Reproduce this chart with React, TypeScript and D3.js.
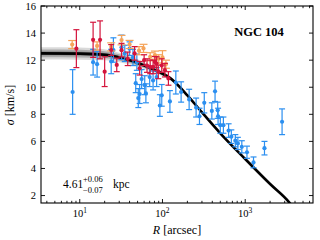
import * as d3 from 'd3';

// model curve (R in arcsec, sigma in km/s) and its band half-width
const modelR = [3.4, 10, 20, 30, 45, 60, 93, 124, 200, 285, 500, 1000, 2000, 3400, 6600];
const modelSigma = [12.5, 12.48, 12.4, 12.2, 11.9, 11.6, 11.1, 10.67, 9.4, 8.3, 6.6, 4.7, 2.85, 1.5, -1.2];
const modelBand = [0.45, 0.45, 0.4, 0.35, 0.3, 0.25, 0.2, 0.15, 0.1, 0.08, 0.06, 0.05, 0.05, 0.05, 0.05];

// blue points
const blueR = [8.2, 14.5, 16.2, 24, 25.5, 32, 35, 40, 44, 47.5, 49, 51, 53, 56, 61, 63, 70, 77, 85, 93, 98, 123, 145, 168, 210, 255, 280, 320, 395, 432, 465, 470, 500, 545, 630, 680, 760, 815, 910, 1050, 1260, 1710, 2790];
const blueSigma = [9.65, 11.85, 11.7, 11.9, 12.75, 12.95, 12.5, 12.85, 12.2, 10.3, 11.85, 9.2, 9.5, 10.6, 10.15, 9.55, 10.75, 10.5, 10.75, 8.65, 9.4, 8.95, 10.35, 9.65, 9.1, 8.5, 7.85, 8.85, 8.25, 9.7, 8.3, 7.85, 7.2, 7.2, 6.8, 6.35, 6.05, 5.85, 5.6, 5.2, 4.45, 5.5, 7.45];
const blueErr = [1.65, 0.95, 0.95, 0.9, 0.9, 0.9, 0.6, 0.5, 0.6, 0.7, 0.6, 0.7, 0.7, 0.7, 0.7, 0.7, 0.7, 0.7, 0.7, 0.8, 0.8, 0.8, 0.85, 0.75, 0.75, 0.7, 0.6, 0.75, 0.6, 0.75, 0.6, 0.6, 0.6, 0.6, 0.5, 0.5, 0.45, 0.45, 0.45, 0.45, 0.4, 0.5, 0.95];

// red points
const redR = [9.1, 14.5, 17.6, 20, 24, 28, 32, 38, 46, 53, 60, 65, 71, 77, 81, 85, 89, 98, 107, 118];
const redSigma = [12.85, 13.5, 13.5, 11.15, 12.75, 11.65, 12.74, 12.1, 12.5, 11.4, 12.0, 11.6, 11.5, 11.5, 11.87, 11.75, 11.13, 11.6, 11.26, 10.65];
const redErr = [1.4, 1.3, 1.4, 1.1, 0.4, 0.5, 0.5, 0.5, 0.5, 0.5, 0.4, 0.5, 0.5, 0.5, 0.4, 0.5, 0.5, 0.5, 0.5, 0.5];

// orange points
const orangeR = [8.1, 16.2, 24, 32, 40, 52, 59, 71, 81, 90, 100, 110];
const orangeSigma = [13.15, 13.05, 12.98, 13.48, 13.16, 12.7, 12.87, 12.25, 12.37, 12.1, 12.2, 11.7];
const orangeErr = [0.3, 0.3, 0.3, 0.35, 0.3, 0.3, 0.3, 0.3, 0.3, 0.3, 0.5, 0.3];

const yTicks = [2, 4, 6, 8, 10, 12, 14, 16];
const xMajor = [10, 100, 1000];
const xMajorExp = ['1', '2', '3'];

const W = 320;
const H = 240;
const L = 41, R = 313, T = 6, B = 203;
const font = '"Liberation Serif", "DejaVu Serif", serif';

const xs = d3.scaleLog().domain([3.4, 6600]).range([L, R]);
const ys = d3.scaleLinear().domain([1.45, 16]).range([B, T]);

function Points({ rs, sig, err, color, cap }: { rs: number[]; sig: number[]; err: number[]; color: string; cap: number }) {
  return (
    <g>
      {rs.map((r, i) => {
        const x = xs(r);
        const y0 = ys(sig[i] - err[i]);
        const y1 = ys(sig[i] + err[i]);
        return (
          <g key={i} stroke={color} strokeWidth={1.2}>
            <line x1={x} x2={x} y1={y0} y2={y1} />
            <line x1={x - cap} x2={x + cap} y1={y0} y2={y0} />
            <line x1={x - cap} x2={x + cap} y1={y1} y2={y1} />
            <circle cx={x} cy={ys(sig[i])} r={2.1} fill={color} stroke="none" />
          </g>
        );
      })}
    </g>
  );
}

export default function App() {
  const idx = modelR.map((_, i) => i);
  const line = d3.line<number>()
    .x(i => xs(modelR[i]))
    .y(i => ys(modelSigma[i]))
    .curve(d3.curveMonotoneX);
  const band = (k: number) => d3.area<number>()
    .x(i => xs(modelR[i]))
    .y0(i => ys(modelSigma[i] - modelBand[i] * k))
    .y1(i => ys(modelSigma[i] + modelBand[i] * k))
    .curve(d3.curveMonotoneX)(idx) as string;

  const minor: number[] = [];
  for (let d = 1; d <= 1000; d *= 10) {
    for (let k = 2; k <= 9; k++) {
      const v = k * d;
      if (v > 3.4 && v < 6600) minor.push(v);
    }
  }

  return (
    <svg width={W} height={H} style={{ position: 'absolute', left: 0, top: 0, background: '#fff' }} fontFamily={font}>
      <defs>
        <clipPath id="plot">
          <rect x={L} y={T} width={R - L} height={B - T} />
        </clipPath>
      </defs>

      <g clipPath="url(#plot)">
        <path d={band(1)} fill="#000" opacity={0.15} />
        <path d={band(0.65)} fill="#000" opacity={0.22} />
        <path d={band(0.3)} fill="#000" opacity={0.3} />
        <path d={line(idx) as string} fill="none" stroke="#000" strokeWidth={2.6} />
        <Points rs={blueR} sig={blueSigma} err={blueErr} color="#2b8ff0" cap={3} />
        <Points rs={orangeR} sig={orangeSigma} err={orangeErr} color="#f5a45a" cap={4} />
        <Points rs={redR} sig={redSigma} err={redErr} color="#d4143c" cap={3} />
      </g>

      {/* ticks */}
      <g stroke="#000" strokeWidth={0.9}>
        {yTicks.map(t => (
          <g key={t}>
            <line x1={L} x2={L + 4} y1={ys(t)} y2={ys(t)} />
            <line x1={R - 4} x2={R} y1={ys(t)} y2={ys(t)} />
          </g>
        ))}
        {xMajor.map(t => (
          <g key={t}>
            <line x1={xs(t)} x2={xs(t)} y1={B} y2={B - 4} />
            <line x1={xs(t)} x2={xs(t)} y1={T} y2={T + 4} />
          </g>
        ))}
        {minor.map(t => (
          <g key={t}>
            <line x1={xs(t)} x2={xs(t)} y1={B} y2={B - 2.2} />
            <line x1={xs(t)} x2={xs(t)} y1={T} y2={T + 2.2} />
          </g>
        ))}
      </g>
      <rect x={L} y={T} width={R - L} height={B - T} fill="none" stroke="#000" strokeWidth={1.1} />

      {/* tick labels */}
      <g fontSize={10.5} fill="#000">
        {yTicks.map(t => (
          <text key={t} x={36} y={ys(t)} dy="0.35em" textAnchor="end">{t}</text>
        ))}
        {xMajor.map((t, i) => (
          <text key={t} x={xs(t)} y={217} textAnchor="middle">
            10<tspan dy={-4} fontSize={7.5}>{xMajorExp[i]}</tspan>
          </text>
        ))}
      </g>

      {/* axis labels */}
      <text x={177} y={234} textAnchor="middle" fontSize={12}>
        <tspan fontStyle="italic">R</tspan> [arcsec]
      </text>
      <text transform="translate(14,105) rotate(-90)" textAnchor="middle" fontSize={12}>
        <tspan fontStyle="italic">σ</tspan> [km/s]
      </text>

      <text x={259} y={36} textAnchor="middle" fontSize={12.5} fontWeight="bold">NGC 104</text>

      <g fontSize={11.5}>
        <text x={63} y={188}>4.61</text>
        <text x={83} y={182} fontSize={8.5}>+0.06</text>
        <text x={83} y={192.5} fontSize={8.5}>−0.07</text>
        <text x={113} y={188}>kpc</text>
      </g>
    </svg>
  );
}
